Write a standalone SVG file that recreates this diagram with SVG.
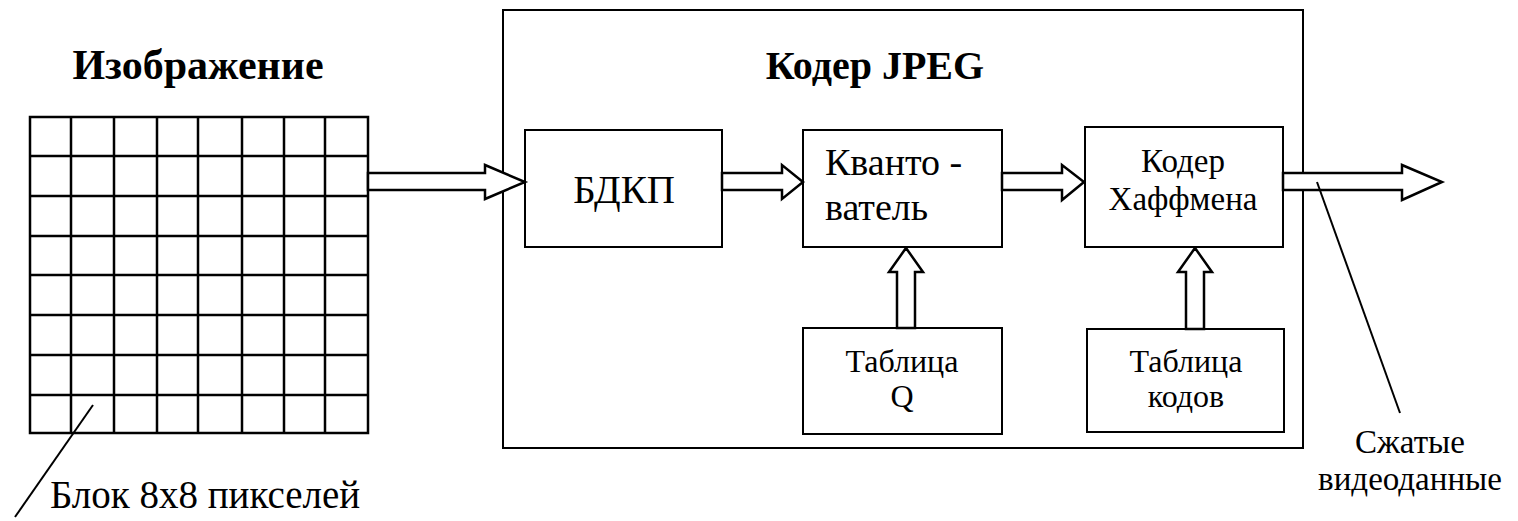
<svg xmlns="http://www.w3.org/2000/svg" width="1518" height="521" viewBox="0 0 1518 521">
<style>
.box{fill:#fff;stroke:#000;stroke-width:2}
.grid{fill:none;stroke:#000;stroke-width:2.5}
.arr{fill:#fff;stroke:#000;stroke-width:2.5;stroke-linejoin:miter}
.ptr{stroke:#000;stroke-width:2;fill:none}
text{font-family:"Liberation Serif","Times New Roman",serif;fill:#000}
.c{text-anchor:middle}
.title{font-weight:bold}
</style>
<rect width="1518" height="521" fill="#fff"/>
<g id="image">
<text class="c title" x="198" y="79" font-size="42">Изображение</text>
<path class="grid" d="M30,117H368V433H30Z M71,117V433 M114,117V433 M157,117V433 M198,117V433 M242,117V433 M284,117V433 M325,117V433 M30,156H368 M30,196H368 M30,236H368 M30,275H368 M30,315H368 M30,355H368 M30,395H368"/>
</g>
<g id="encoder">
<rect class="box" x="503" y="10" width="800" height="438"/>
<text class="c title" x="875" y="79" font-size="40">Кодер JPEG</text>
</g>
<g id="dct">
<rect class="box" x="525" y="130" width="197" height="117"/>
<text class="c" x="624" y="203" font-size="39">БДКП</text>
</g>
<g id="quant">
<rect class="box" x="803" y="130" width="199" height="117"/>
<text x="825" y="175" font-size="38">Кванто -</text>
<text x="825" y="220" font-size="38">ватель</text>
</g>
<g id="huffman">
<rect class="box" x="1085" y="127" width="198" height="120"/>
<text class="c" x="1183" y="172" font-size="33">Кодер</text>
<text class="c" x="1183" y="210" font-size="33">Хаффмена</text>
</g>
<g id="tableq">
<rect class="box" x="803" y="328" width="199" height="106"/>
<text class="c" x="902" y="372" font-size="32">Таблица</text>
<text class="c" x="902" y="407" font-size="32">Q</text>
</g>
<g id="tablecodes">
<rect class="box" x="1087" y="329" width="197" height="103"/>
<text class="c" x="1186" y="372" font-size="32">Таблица</text>
<text class="c" x="1186" y="407" font-size="32">кодов</text>
</g>
<g id="connectors">
<polygon class="arr" points="368,173 485,173 485,165 525,182 485,199 485,190 368,190"/>
<polygon class="arr" points="722,173 782,173 782,165 803,182 782,199 782,190 722,190"/>
<polygon class="arr" points="1002,173 1062,173 1062,165 1084,182 1062,200 1062,190 1002,190"/>
<polygon class="arr" points="1283,173 1402,173 1402,165 1442,182 1402,200 1402,190 1283,190"/>
<polygon class="arr" points="897,328 897,272 889,272 906,248 923,272 915,272 915,328"/>
<polygon class="arr" points="1186,329 1186,272 1178,272 1195,248 1212,272 1204,272 1204,329"/>
<line class="ptr" x1="93" y1="405" x2="15" y2="517"/>
<line class="ptr" x1="1317" y1="182" x2="1400" y2="413"/>
</g>
<g id="labels">
<text class="c" x="205" y="508" font-size="39">Блок 8x8 пикселей</text>
<text class="c" x="1410" y="453" font-size="33">Сжатые</text>
<text class="c" x="1410" y="490" font-size="33">видеоданные</text>
</g>
</svg>
